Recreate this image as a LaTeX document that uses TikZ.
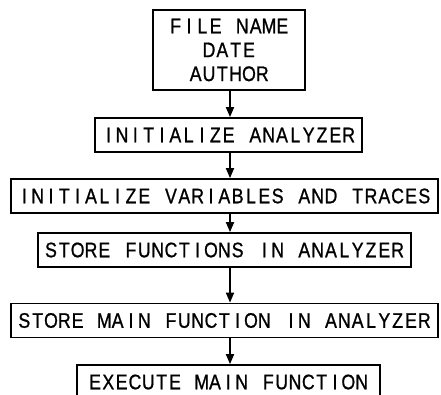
\documentclass[tikz,border=0pt]{standalone}
\usepackage{fontspec}
\newfontfamily\cadfont[FakeStretch=0.84, FakeBold=0.9]{Liberation Sans}
\usetikzlibrary{arrows.meta}

% every letter sits in a cell of the same width, like a plotter font
\newlength\cadcell
\setlength\cadcell{0.4cm}
\ExplSyntaxOn
\NewDocumentCommand\cad{m}{\str_map_inline:nn{#1}{\makebox[\cadcell][c]{##1}}}
\ExplSyntaxOff

\begin{document}
\begin{tikzpicture}[
    stepbox/.style={draw, line width=1.5pt, inner xsep=0.2cm, inner ysep=0pt,
        minimum height=1.02cm, align=center,
        font=\cadfont\fontsize{18}{20.4}\selectfont},
    flow/.style={line width=1.5pt, -{Triangle[length=0.3cm, width=0.24cm]}}
]
% Fix the page to the size of the reference
\useasboundingbox (0,0) rectangle (13.23,11.82);

% Header box
\node[stepbox, minimum width=4.56cm, minimum height=2.4cm] (header) at (6.87,10.32)
    {\cad{FILE NAME}\\\cad{DATE}\\\cad{AUTHOR}};

% Steps of the program
\node[stepbox] (initan)    at (6.86,7.77) {\cad{INITIALIZE ANALYZER}};
\node[stepbox] (initvar)   at (6.73,5.94) {\cad{INITIALIZE VARIABLES AND TRACES}};
\node[stepbox] (storefn)   at (6.73,4.32) {\cad{STORE FUNCTIONS IN ANALYZER}};
\node[stepbox] (storemain) at (6.73,2.205) {\cad{STORE MAIN FUNCTION IN ANALYZER}};
\node[stepbox, minimum width=9.1cm] (execmain) at (6.85,0.36) {\cad{EXECUTE MAIN FUNCTION}};

% Arrows between the boxes, all on one vertical line
\coordinate (spine) at (6.9,0);
\foreach \a/\b in {header/initan, initan/initvar, initvar/storefn,
                   storefn/storemain, storemain/execmain} {
    \draw[flow] (spine |- \a.south) -- (spine |- \b.north);
}

\end{tikzpicture}
\end{document}
